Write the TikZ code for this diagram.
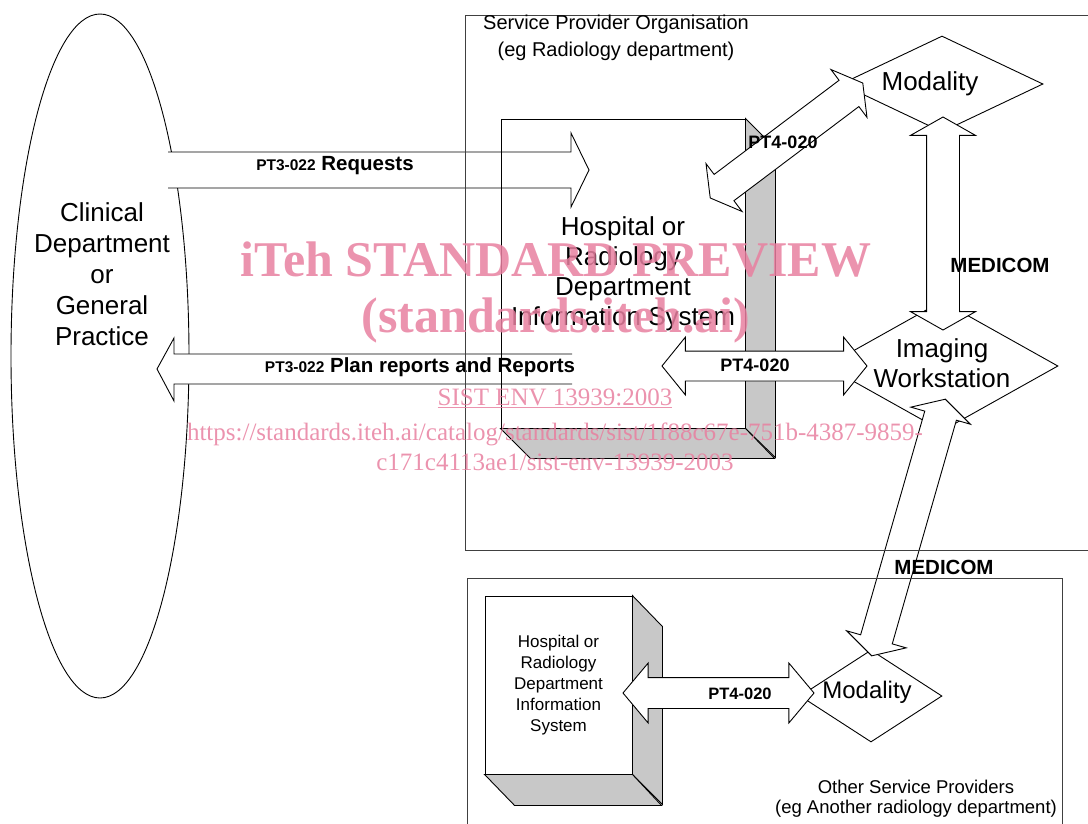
\documentclass[tikz,border=0pt]{standalone}
\usepackage{fontspec}
\setmainfont{Liberation Sans}
\newfontfamily\wmserif{Liberation Serif}
\usepackage{tikz}
\usetikzlibrary{shapes.geometric,shapes.arrows,positioning}
\definecolor{wm-pink}{RGB}{232,128,160}
\definecolor{side-gray}{RGB}{200,200,200}
\tikzset{
  org-frame/.style={draw=black!75, line width=0.9pt, inner sep=0pt},
  system-front/.style={draw=black, line width=0.9pt, inner sep=0pt, align=center},
  system-side/.style={draw=black, fill=side-gray, line width=0.9pt},
  unit-diamond/.style={diamond, draw=black, fill=white, line width=0.9pt, inner sep=0pt},
  link-arrow/.style={double arrow, draw=black, fill=white, line width=0.9pt,
    inner xsep=0pt, inner ysep=15pt, double arrow head extend=15pt, double arrow tip angle=115},
  flow-arrow/.style={draw=black, fill=white, line width=0.9pt},
  big-text/.style={font=\fontsize{26}{30}\selectfont, align=center},
  mid-text/.style={font=\fontsize{20}{27}\selectfont, align=center},
  link-tag/.style={font=\bfseries\fontsize{18}{20}\selectfont, inner sep=1pt},
  wide-tag/.style={font=\bfseries\fontsize{20.5}{22}\selectfont, inner sep=1pt},
  watermark/.style={text=wm-pink, opacity=0.85, align=center}
}
\newcommand{\smalltag}[1]{{\fontsize{15.5}{18}\selectfont #1}}

\begin{document}
\begin{tikzpicture}[x=1pt, y=-1pt]
  \useasboundingbox (0,0) rectangle (1088,823);

  % Clinical side
  \node[draw, ellipse, line width=0.9pt, minimum width=178pt, minimum height=684pt, inner sep=0pt] (clinic) at (100,356) {};
  \node[big-text, font=\fontsize{26}{31}\selectfont] (clinic-text) at (102,274) {Clinical\\Department\\or\\General\\Practice};

  % PT3-022 flows, open at the tail
  \coordinate (req-tail) at (168,170);
  \coordinate (rep-tail) at (572,369);
  \draw[flow-arrow] (req-tail) ++(0,-18) -- ++(403,0) -- ++(0,-19) -- ++(18,37) -- ++(-18,37) -- ++(0,-19) -- ++(-403,0);
  \draw[flow-arrow] (rep-tail) ++(0,-15) -- ++(-398,0) -- ++(0,-16) -- ++(-17,31) -- ++(17,32) -- ++(0,-17) -- ++(398,0);
  \node[wide-tag] (req-tag) at (335,166) {\smalltag{PT3-022} Requests};
  \node[wide-tag] (rep-tag) at (420,367) {\smalltag{PT3-022} Plan reports and Reports};

  % Service provider organisation
  \node[org-frame, anchor=north west, minimum width=640pt, minimum height=535pt] (spo) at (465,15) {};
  \node[mid-text] (spo-text) at (616,38) {Service Provider Organisation\\(eg Radiology department)};

  \node[system-front, big-text, minimum width=244pt, minimum height=309pt] (ris) at (623,273.5) {Hospital or\\Radiology\\Department\\Information System};
  \draw[system-side] (ris.north east) -- ++(30,30) -- ++(0,309) -- (ris.south east) -- cycle;
  \draw[system-side] (ris.south west) -- ++(30,30) -- ++(244,0) -- (ris.south east) -- cycle;

  \node[unit-diamond, minimum width=202pt, minimum height=96pt,
    label={[big-text, xshift=-12pt]center:Modality}] (modality) at (942,84) {};
  \node[unit-diamond, minimum width=232pt, minimum height=130pt,
    label={[big-text, yshift=3pt]center:Imaging\\Workstation}] (iws) at (942,366) {};

  % Links inside the department
  \node[link-arrow, minimum height=191pt, inner ysep=16pt, double arrow head extend=13.5pt, double arrow tip angle=120, rotate=37] (ris-mod) at (786.5,140.5) {};
  \node[link-tag] (ris-mod-tag) at (783,142) {PT4-020};
  \node[link-arrow, minimum height=205pt, inner ysep=14.5pt, double arrow head extend=14pt, double arrow tip angle=102] (ris-iws) at (764.5,366) {};
  \node[link-tag] (ris-iws-tag) at (755,365) {PT4-020};
  \node[link-arrow, minimum height=213pt, inner ysep=16pt, double arrow head extend=16pt, double arrow tip angle=121, rotate=90] (mod-iws) at (943,223.5) {};
  \node[wide-tag] (mod-iws-tag) at (1000,265) {MEDICOM};

  % Other service providers
  \node[system-front, font=\fontsize{17}{21}\selectfont, minimum width=147pt, minimum height=178pt] (local-ris) at (558.5,685) {Hospital or\\Radiology\\Department\\Information\\System};
  \draw[system-side] (local-ris.north east) -- ++(30,31) -- ++(0,178) -- (local-ris.south east) -- cycle;
  \draw[system-side] (local-ris.south west) -- ++(30,31) -- ++(147,0) -- (local-ris.south east) -- cycle;
  \node[unit-diamond, minimum width=142pt, minimum height=92pt,
    label={[big-text, font=\fontsize{24}{28}\selectfont, xshift=-4pt, yshift=4pt]center:Modality}] (remote-mod) at (871,696) {};
  \node[link-arrow, minimum height=191pt, inner ysep=15pt, double arrow head extend=14.5pt, double arrow tip angle=100] (local-link) at (718.5,693) {};
  \node[link-tag, font=\bfseries\fontsize{16.5}{18}\selectfont] (local-tag) at (740,694) {PT4-020};
  \node[link-arrow, minimum height=267pt, inner ysep=16pt, double arrow head extend=14.5pt, double arrow tip angle=122, rotate=74] (iws-remote) at (908.5,527.5) {};

  \node[org-frame, anchor=north west, minimum width=595pt, minimum height=260pt] (osp) at (467,578) {};
  \draw[org-frame] (spo.south west) -- (spo.south east);
  \node[wide-tag] (iws-remote-tag) at (944,567) {MEDICOM};
  \node[mid-text, font=\fontsize{18.5}{20}\selectfont] (osp-text) at (916,799) {Other Service Providers\\(eg Another radiology department)};

  % Preview stamp
  \node[watermark, font=\wmserif\bfseries\fontsize{50}{60}\selectfont] (wm-title) at (556,260) {iTeh STANDARD PREVIEW};
  \node[watermark, font=\wmserif\bfseries\fontsize{50}{60}\selectfont] (wm-site) at (556,320) {(standards.iteh.ai)};
  \node[watermark, font=\wmserif\fontsize{25}{30}\selectfont] (wm-ref) at (555,398) {\underline{SIST ENV 13939:2003}};
  \node[watermark, font=\wmserif\fontsize{25}{30}\selectfont] (wm-url) at (555,447) {https://standards.iteh.ai/catalog/standards/sist/1f88c67e-751b-4387-9859-\\c171c4113ae1/sist-env-13939-2003};
\end{tikzpicture}
\end{document}
